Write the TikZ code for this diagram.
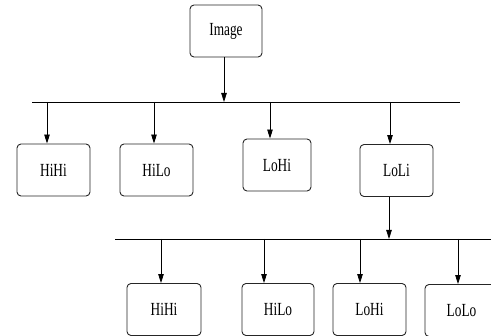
\documentclass[tikz,border=0pt]{standalone}
\usepackage{fontspec}
\setmainfont{Liberation Serif}
\usetikzlibrary{arrows.meta,positioning,calc}
\newcommand{\nar}[1]{\scalebox{0.72}[1]{#1}}

\begin{document}
\begin{tikzpicture}[x=1pt, y=-1pt,
    box/.style={draw=black!85, line width=0.9pt, rounded corners=4pt, minimum width=73pt,
      minimum height=52pt, inner sep=0pt, font=\fontsize{18.5}{19}\selectfont},
    arr/.style={-{Triangle[length=9pt,width=5.5pt]}, line width=0.8pt},
    bar/.style={line width=0.8pt}]
  \useasboundingbox (0,0) rectangle (491,336);
  \clip (0,0) rectangle (491,336);
  % root
  \node[box, minimum width=72pt] (img) at (226,31) {\nar{Image}};
  % first level
  \node[box] (hh1) at (53.5,170) {\nar{HiHi}};
  \node[box] (hl1) at (156.5,170) {\nar{HiLo}};
  \node[box, minimum width=68pt] (lh1) at (277,165) {\nar{LoHi}};
  \node[box] (ll1) at (396.5,170.5) {\nar{LoLi}};
  % second level
  \node[box, minimum width=74pt] (hh2) at (164,309.5) {\nar{HiHi}};
  \node[box, minimum width=72pt] (hl2) at (278,309.5) {\nar{HiLo}};
  \node[box] (lh2) at (369.5,309.5) {\nar{LoHi}};
  \node[box] (lo2) at (461.5,310.5) {\nar{LoLo}};
  % bars
  \coordinate (b1l) at (32,102);
  \coordinate (b1r) at (460,102);
  \coordinate (b2l) at (115,239);
  \coordinate (b2r) at (491,239);
  \draw[bar] (b1l) -- (b1r);
  \draw[bar] (b2l) -- (b2r);
  \draw[arr] (img.south -| 224,0) -- (b1l -| 224,0);
  \draw[arr] (ll1.south -| 389,0) -- (b2l -| 389,0);
  % branches
  \foreach \x/\n in {47/hh1, 154/hl1, 270/lh1, 390/ll1}
    \draw[arr] (b1l -| \x,0) -- (\n.north -| \x,0);
  \foreach \x/\n in {161/hh2, 264/hl2, 360/lh2, 458/lo2}
    \draw[arr] (b2l -| \x,0) -- (\n.north -| \x,0);
\end{tikzpicture}
\end{document}
